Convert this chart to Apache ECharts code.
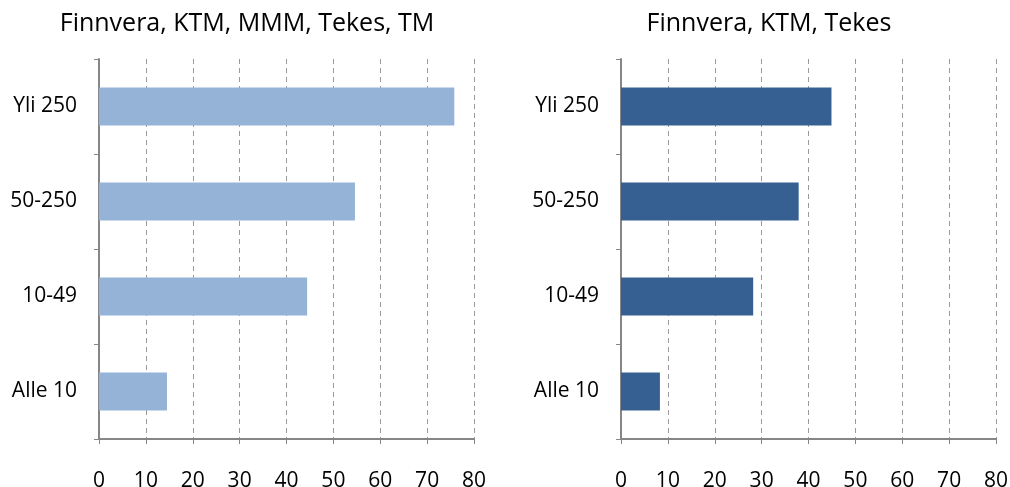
<!DOCTYPE html>
<html>
<head>
<meta charset="utf-8">
<script src="https://cdn.jsdelivr.net/npm/echarts@6/dist/echarts.min.js"></script>
<style>
html, body { margin: 0; padding: 0; background: #fff; }
#chart { width: 1010px; height: 487px; }
</style>
</head>
<body>
<div id="chart"></div>
<script>
const categories = ['Yli 250', '50-250', '10-49', 'Alle 10'];
const titles = ['Finnvera, KTM, MMM, Tekes, TM', 'Finnvera, KTM, Tekes'];
const valuesLeft = [75.8, 54.6, 44.4, 14.5];
const valuesRight = [44.9, 37.9, 28.2, 8.3];
const xTicks = [0, 10, 20, 30, 40, 50, 60, 70, 80];

const FONT = 'Open Sans';
const axisGray = '#868686';

function makeX(gi) {
	return {
		gridIndex: gi,
		type: 'value',
		min: xTicks[0],
		max: xTicks[xTicks.length - 1],
		interval: xTicks[1] - xTicks[0],
		axisLine: { show: true, lineStyle: { color: axisGray, width: 2 } },
		axisTick: { show: true, length: 5, lineStyle: { color: axisGray, width: 1 } },
		axisLabel: { color: '#000', fontFamily: FONT, fontSize: 21, margin: 32 },
		splitLine: { show: true, lineStyle: { color: '#9a9a9a', type: [5, 4], width: 1 } }
	};
}

function makeY(gi) {
	return {
		gridIndex: gi,
		type: 'category',
		inverse: true,
		data: categories,
		axisLine: { show: true, lineStyle: { color: axisGray, width: 2 } },
		axisTick: { show: true, length: 5, interval: 0, lineStyle: { color: axisGray, width: 1 } },
		axisLabel: { color: '#000', fontFamily: FONT, fontSize: 21, margin: 22 },
		splitLine: { show: false }
	};
}

function titleText(txt, cx) {
	return {
		type: 'text',
		x: cx,
		y: 24,
		style: {
			text: txt,
			fill: '#000',
			font: '25px "' + FONT + '"',
			textAlign: 'center',
			textVerticalAlign: 'middle'
		}
	};
}

const chart = echarts.init(document.getElementById('chart'), null, { renderer: 'canvas' });
chart.setOption({
	animation: false,
	backgroundColor: '#fff',
	graphic: [titleText(titles[0], 247), titleText(titles[1], 769)],
	grid: [
		{ left: 99, width: 375, top: 59, height: 380, containLabel: false, outerBoundsMode: 'none' },
		{ left: 621, width: 375, top: 59, height: 380, containLabel: false, outerBoundsMode: 'none' }
	],
	xAxis: [makeX(0), makeX(1)],
	yAxis: [makeY(0), makeY(1)],
	series: [
		{ type: 'bar', xAxisIndex: 0, yAxisIndex: 0, data: valuesLeft,
			barWidth: '40%', itemStyle: { color: '#95b3d7' } },
		{ type: 'bar', xAxisIndex: 1, yAxisIndex: 1, data: valuesRight,
			barWidth: '40%', itemStyle: { color: '#366092' } }
	]
});
</script>
</body>
</html>
